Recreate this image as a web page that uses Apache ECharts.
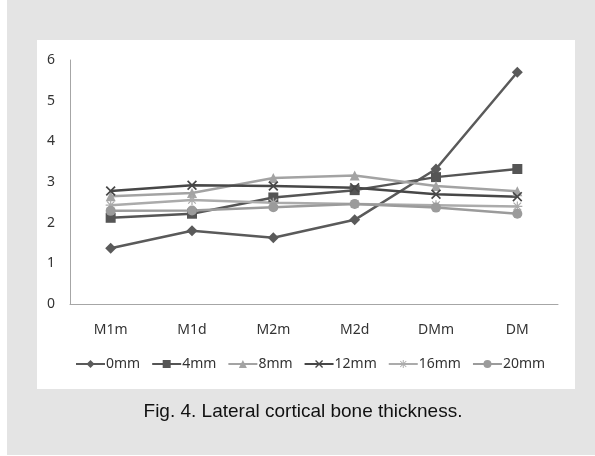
<!DOCTYPE html>
<html><head><meta charset="utf-8">
<script src="https://cdn.jsdelivr.net/npm/echarts@6/dist/echarts.min.js"></script>
<style>html,body{margin:0;padding:0;background:#e4e4e4;}#c{width:595px;height:456px;}</style>
</head><body><div id="c"></div>
<script>
const categories = ['M1m','M1d','M2m','M2d','DMm','DM'];
const seriesNames = ['0mm','4mm','8mm','12mm','16mm','20mm'];
const v0mm  = [1.37, 1.80, 1.63, 2.07, 3.32, 5.70];
const v4mm  = [2.12, 2.22, 2.62, 2.80, 3.12, 3.32];
const v8mm  = [2.65, 2.73, 3.10, 3.16, 2.90, 2.77];
const v12mm = [2.78, 2.92, 2.90, 2.86, 2.70, 2.64];
const v16mm = [2.43, 2.56, 2.49, 2.46, 2.43, 2.40];
const v20mm = [2.29, 2.30, 2.38, 2.46, 2.37, 2.22];
const yTicks = [0,1,2,3,4,5,6];

const xSym = 'path://M0,1.2L1.2,0L5,3.8L8.8,0L10,1.2L6.2,5L10,8.8L8.8,10L5,6.2L1.2,10L0,8.8L3.8,5Z';
const starSym = 'path://M4.4,0H5.6V10H4.4Z M0,4.4H10V5.6H0Z M0.8,1.65L1.65,0.8L9.2,8.35L8.35,9.2Z M8.35,0.8L9.2,1.65L1.65,9.2L0.8,8.35Z';

const styles = [
  {data: v0mm,  color:'#5a5a5a', symbol:'diamond',  size:11},
  {data: v4mm,  color:'#555555', symbol:'rect',     size:10},
  {data: v8mm,  color:'#a3a3a3', symbol:'triangle', size:10},
  {data: v12mm, color:'#474747', symbol:xSym,       size:10},
  {data: v16mm, color:'#ababab', symbol:starSym,    size:10},
  {data: v20mm, color:'#9b9b9b', symbol:'circle',   size:10}
];

const font = '"Noto Sans", sans-serif';
const chart = echarts.init(document.getElementById('c'), null, {renderer:'canvas'});
chart.setOption({
  backgroundColor:'#e4e4e4',
  animation:false,
  graphic:[
    {type:'rect', shape:{x:0,y:0,width:7,height:456}, style:{fill:'#ffffff'}, z:-10},
    {type:'rect', shape:{x:0,y:455,width:595,height:1}, style:{fill:'#ffffff'}, z:-10},
    {type:'rect', shape:{x:37,y:40,width:538,height:349}, style:{fill:'#ffffff'}, z:-10},
    {type:'text', style:{x:303, y:412, text:'Fig. 4. Lateral cortical bone thickness.', fill:'#111111',
      font:'19px "Liberation Sans", Arial, sans-serif', textAlign:'center', textVerticalAlign:'middle'}}
  ],
  grid:{left:70, right:37, top:60, bottom:152, containLabel:false},
  xAxis:{type:'category', data:categories, boundaryGap:true,
    axisLine:{lineStyle:{color:'#a6a6a6', width:1}}, axisTick:{show:false},
    axisLabel:{color:'#333333', fontSize:14, fontFamily:font, margin:19}},
  yAxis:{type:'value', min:yTicks[0], max:yTicks[yTicks.length-1], interval:1,
    axisLine:{show:true, lineStyle:{color:'#a6a6a6', width:1}}, axisTick:{show:false},
    splitLine:{show:false},
    axisLabel:{color:'#333333', fontSize:14, fontFamily:font, margin:15}},
  legend:{data:seriesNames, bottom:80, left:70, itemWidth:29, itemHeight:10, itemGap:11,
    textStyle:{color:'#333333', fontSize:14, fontFamily:font, padding:[0,0,0,-4]}},
  series: styles.map((s,i)=>({
    name: seriesNames[i], type:'line', data:s.data,
    symbol:s.symbol, symbolSize:s.size, showAllSymbol:true,
    lineStyle:{color:s.color, width:2.5},
    itemStyle:{color:s.color}
  }))
});
</script></body></html>
